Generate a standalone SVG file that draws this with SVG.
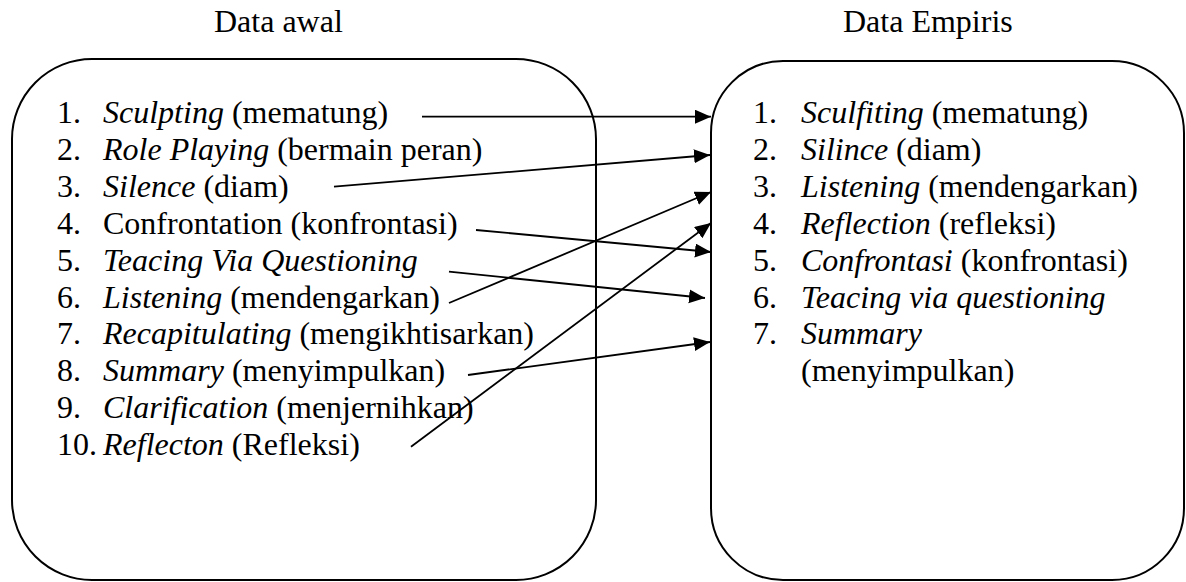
<svg xmlns="http://www.w3.org/2000/svg" width="1186" height="582" viewBox="0 0 1186 582">
<style>
text{font-family:'Liberation Serif','DejaVu Serif',serif;font-size:32px;fill:#000}
.i{font-style:italic}
.box{fill:none;stroke:#000;stroke-width:2}
.c{stroke:#000;stroke-width:1.8;fill:none}
</style>
<defs>
<marker id="ah" markerUnits="userSpaceOnUse" markerWidth="17" markerHeight="15" refX="16" refY="7" orient="auto">
<path d="M0,0 L16,7 L0,14 z" fill="#000"/>
</marker>
</defs>
<text x="214" y="32">Data awal</text>
<text x="843" y="32">Data Empiris</text>
<g id="data-awal">
<rect class="box" x="12" y="59" width="584" height="521" rx="80" ry="80"/>
<text x="57" y="123">1.</text><text x="103" y="123"><tspan class="i">Sculpting</tspan> (mematung)</text>
<text x="57" y="159.9">2.</text><text x="103" y="159.9"><tspan class="i">Role Playing</tspan> (bermain peran)</text>
<text x="57" y="196.8">3.</text><text x="103" y="196.8"><tspan class="i">Silence</tspan> (diam)</text>
<text x="57" y="233.7">4.</text><text x="103" y="233.7">Confrontation (konfrontasi)</text>
<text x="57" y="270.6">5.</text><text x="103" y="270.6" class="i">Teacing Via Questioning</text>
<text x="57" y="307.5">6.</text><text x="103" y="307.5"><tspan class="i">Listening</tspan> (mendengarkan)</text>
<text x="57" y="344.4">7.</text><text x="103" y="344.4"><tspan class="i">Recapitulating</tspan> (mengikhtisarkan)</text>
<text x="57" y="381.3">8.</text><text x="103" y="381.3"><tspan class="i">Summary</tspan> (menyimpulkan)</text>
<text x="57" y="418.2">9.</text><text x="103" y="418.2"><tspan class="i">Clarification</tspan> (menjernihkan)</text>
<text x="57" y="455.1">10.</text><text x="103" y="455.1"><tspan class="i">Reflecton</tspan> (Refleksi)</text>
</g>
<g id="data-empiris">
<rect class="box" x="711" y="61" width="473" height="519" rx="72" ry="72"/>
<text x="753" y="123">1.</text><text x="801" y="123"><tspan class="i">Sculfiting</tspan> (mematung)</text>
<text x="753" y="159.9">2.</text><text x="801" y="159.9"><tspan class="i">Silince</tspan> (diam)</text>
<text x="753" y="196.8">3.</text><text x="801" y="196.8"><tspan class="i">Listening</tspan> (mendengarkan)</text>
<text x="753" y="233.7">4.</text><text x="801" y="233.7"><tspan class="i">Reflection</tspan> (refleksi)</text>
<text x="753" y="270.6">5.</text><text x="801" y="270.6"><tspan class="i">Confrontasi</tspan> (konfrontasi)</text>
<text x="753" y="307.5">6.</text><text x="801" y="307.5" class="i">Teacing via questioning</text>
<text x="753" y="344.4">7.</text><text x="801" y="344.4" class="i">Summary</text>
<text x="801" y="381.3">(menyimpulkan)</text>
</g>
<g id="connectors">
<line class="c" x1="422" y1="116.7" x2="711" y2="116.7" marker-end="url(#ah)"/>
<line class="c" x1="334" y1="186.7" x2="710" y2="155" marker-end="url(#ah)"/>
<line class="c" x1="476" y1="230" x2="711" y2="252" marker-end="url(#ah)"/>
<line class="c" x1="449" y1="271.7" x2="705" y2="298" marker-end="url(#ah)"/>
<line class="c" x1="449" y1="303" x2="711" y2="192" marker-end="url(#ah)"/>
<line class="c" x1="468" y1="375" x2="710" y2="342" marker-end="url(#ah)"/>
<line class="c" x1="411" y1="446.7" x2="711" y2="223" marker-end="url(#ah)"/>
</g>
</svg>
